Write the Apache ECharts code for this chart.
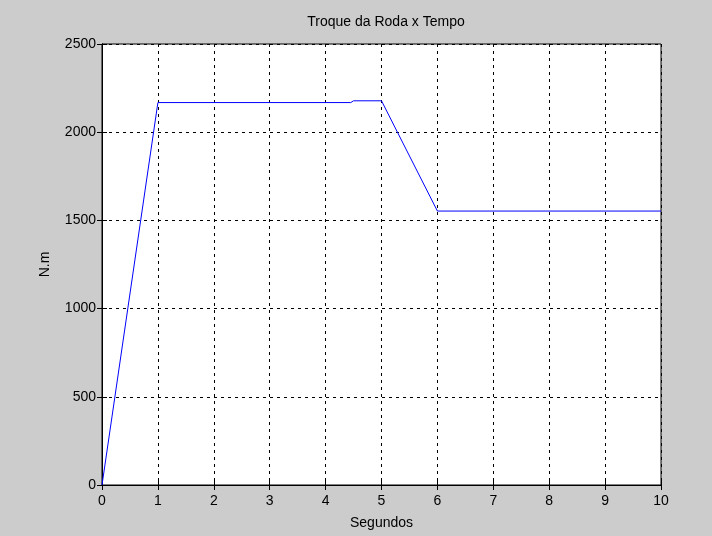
<!DOCTYPE html>
<html>
<head>
<meta charset="utf-8">
<script src="https://cdn.jsdelivr.net/npm/echarts@6/dist/echarts.min.js"></script>
<style>
html,body{margin:0;padding:0;background:#cccccc;}
#chart{width:712px;height:536px;}
</style>
</head>
<body>
<div id="chart"></div>
<script>
const titleText = "Troque da Roda x Tempo";
const xName = "Segundos";
const yName = "N.m";
const timeSec = [0, 1, 4.45, 4.5, 5, 6, 10];
const torque = [0, 2168, 2168, 2178, 2178, 1553, 1553];

const chart = echarts.init(document.getElementById('chart'), null, {renderer: 'canvas'});
const font = 'Liberation Sans, Arial, sans-serif';
const data = timeSec.map((t, i) => [t, torque[i]]);
const gridLine = {show: true, lineStyle: {color: '#000', type: [3, 4], width: 1}};
chart.setOption({
  backgroundColor: '#cccccc',
  animation: false,
  title: {
    text: titleText, left: 381, top: 10, textAlign: 'center',
    textStyle: {fontFamily: font, fontSize: 14, fontWeight: 'normal', color: '#000'}
  },
  grid: {left: 102, right: 51, top: 44, bottom: 51, show: true, backgroundColor: '#fff', borderColor: '#000', borderWidth: 1},
  xAxis: [{
    type: 'value', min: 0, max: 10, interval: 1,
    name: xName, nameLocation: 'middle', nameGap: 31,
    nameTextStyle: {fontFamily: font, fontSize: 14, color: '#000'},
    axisLine: {show: true, lineStyle: {color: '#000'}},
    axisTick: {show: true, inside: true, length: 5, lineStyle: {color: '#000'}},
    axisLabel: {fontFamily: font, fontSize: 14, color: '#000', margin: 9, formatter: v => String(v)},
    splitLine: gridLine
  }, {
    type: 'value', min: 0, max: 10, interval: 1, position: 'top',
    axisLine: {show: true, lineStyle: {color: '#000'}},
    axisTick: {show: true, inside: true, length: 5, lineStyle: {color: '#000'}},
    axisLabel: {show: false}, splitLine: {show: false}
  }],
  yAxis: [{
    type: 'value', min: 0, max: 2500, interval: 500,
    name: yName, nameLocation: 'middle', nameGap: 50, nameRotate: 90,
    nameTextStyle: {fontFamily: font, fontSize: 14, color: '#000'},
    axisLine: {show: true, lineStyle: {color: '#000'}},
    axisTick: {show: true, inside: true, length: 5, lineStyle: {color: '#000'}},
    axisLabel: {fontFamily: font, fontSize: 14, color: '#000', margin: 6, formatter: v => String(v)},
    splitLine: gridLine
  }, {
    type: 'value', min: 0, max: 2500, interval: 500, position: 'right',
    axisLine: {show: true, lineStyle: {color: '#000'}},
    axisTick: {show: true, inside: true, length: 5, lineStyle: {color: '#000'}},
    axisLabel: {show: false}, splitLine: {show: false}
  }],
  series: [{
    type: 'line', data: data, xAxisIndex: 0, yAxisIndex: 0,
    showSymbol: false, symbol: 'none',
    lineStyle: {color: '#0000ff', width: 1}
  }]
});
</script>
</body>
</html>
